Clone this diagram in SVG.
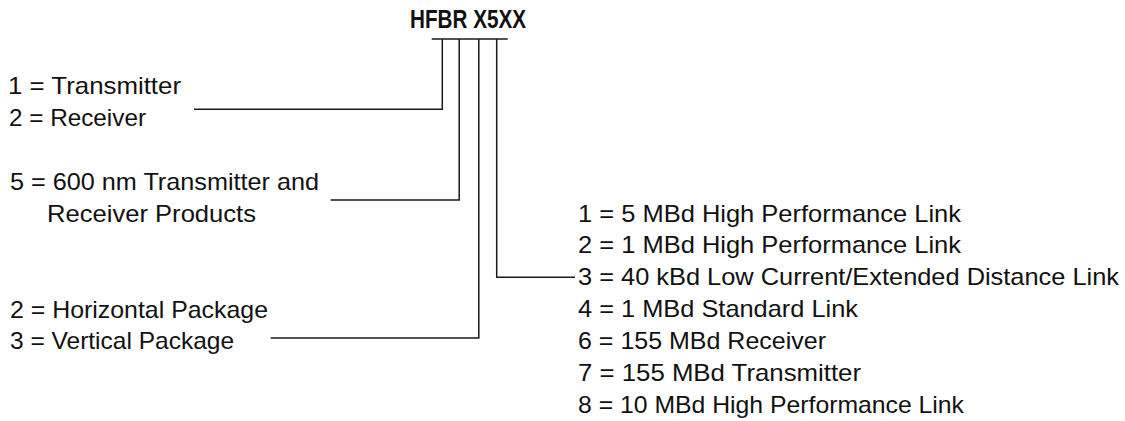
<svg xmlns="http://www.w3.org/2000/svg" width="1125" height="421" viewBox="0 0 1125 421">
<style>
.t{font-family:"Liberation Sans",Arial,sans-serif;font-size:24px;fill:#111}
.h{font-family:"Liberation Sans",Arial,sans-serif;font-size:25px;font-weight:bold;fill:#111}
.c{fill:none;stroke:#1a1a1a;stroke-width:1.5}
</style>
<rect width="1125" height="421" fill="#fff"/>
<g id="title"><text class="h" x="410" y="28" textLength="116" lengthAdjust="spacingAndGlyphs">HFBR X5XX</text></g>
<g id="connectors">
<path class="c" d="M431.7 39H507.7"/>
<path class="c" d="M442.3 39V109.3H194"/>
<path class="c" d="M459.2 39V200H330.7"/>
<path class="c" d="M478.8 39V338H270.7"/>
<path class="c" d="M496.7 39V277.3H575"/>
</g>
<g id="type">
<text class="t" x="8" y="93.5" textLength="173" lengthAdjust="spacingAndGlyphs">1 = Transmitter</text>
<text class="t" x="9" y="126" textLength="137" lengthAdjust="spacingAndGlyphs">2 = Receiver</text>
</g>
<g id="wavelength">
<text class="t" x="10" y="190" textLength="309" lengthAdjust="spacingAndGlyphs">5 = 600 nm Transmitter and</text>
<text class="t" x="47" y="221.7" textLength="209" lengthAdjust="spacingAndGlyphs">Receiver Products</text>
</g>
<g id="package">
<text class="t" x="10" y="318" textLength="258" lengthAdjust="spacingAndGlyphs">2 = Horizontal Package</text>
<text class="t" x="10" y="349" textLength="224" lengthAdjust="spacingAndGlyphs">3 = Vertical Package</text>
</g>
<g id="link">
<text class="t" x="578" y="221.5" textLength="383" lengthAdjust="spacingAndGlyphs">1 = 5 MBd High Performance Link</text>
<text class="t" x="578" y="253" textLength="383" lengthAdjust="spacingAndGlyphs">2 = 1 MBd High Performance Link</text>
<text class="t" x="578" y="284.5" textLength="541" lengthAdjust="spacingAndGlyphs">3 = 40 kBd Low Current/Extended Distance Link</text>
<text class="t" x="578" y="317" textLength="280" lengthAdjust="spacingAndGlyphs">4 = 1 MBd Standard Link</text>
<text class="t" x="578" y="349" textLength="248" lengthAdjust="spacingAndGlyphs">6 = 155 MBd Receiver</text>
<text class="t" x="578" y="381" textLength="283" lengthAdjust="spacingAndGlyphs">7 = 155 MBd Transmitter</text>
<text class="t" x="578" y="413" textLength="386" lengthAdjust="spacingAndGlyphs">8 = 10 MBd High Performance Link</text>
</g>
</svg>
